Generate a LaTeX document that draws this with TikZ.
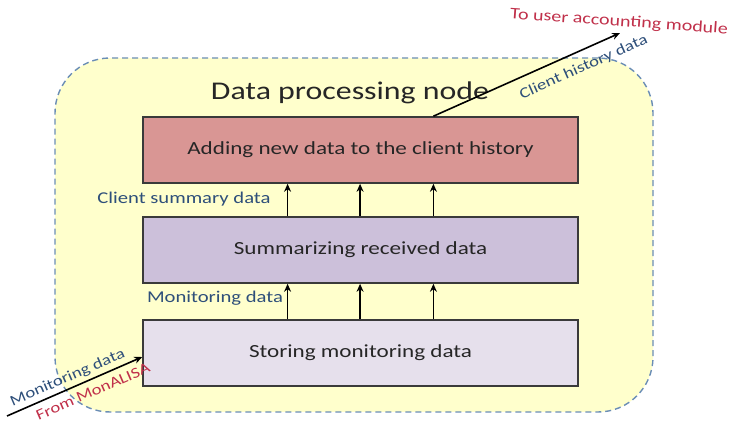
\documentclass[tikz,border=0pt]{standalone}
\usepackage{fontspec}
\setmainfont{Carlito}[FakeStretch=1.25]
\usetikzlibrary{arrows.meta,calc}
\definecolor{regionfill}{HTML}{FFFFCC}
\definecolor{regionline}{HTML}{6A8DB5}
\definecolor{addfill}{HTML}{D99694}
\definecolor{sumfill}{HTML}{CCC0DA}
\definecolor{storefill}{HTML}{E6E0EC}
\definecolor{lblue}{HTML}{2E4F7A}
\definecolor{lred}{HTML}{C0304A}
\definecolor{boxline}{HTML}{3A3A3A}
\tikzset{
  procbox/.style={draw=boxline, line width=1.6pt, minimum width=435pt, minimum height=66pt, inner sep=0pt, font=\fontsize{18.5}{20}\selectfont, text=black!85},
  flowlbl/.style={text=lblue, font=\fontsize{16.5}{18}\selectfont},
  slopelbl/.style={text=lblue, font=\fontsize{15}{17}\selectfont},
  redlbl/.style={text=lred, font=\fontsize{15}{17}\selectfont},
  flowarrow/.style={line width=1.6pt, -{Stealth[length=8pt,width=7pt]}},
}
\begin{document}
\begin{tikzpicture}[x=1pt,y=-1pt]
\useasboundingbox (0,0) rectangle (740,430);
\node[draw=regionline, fill=regionfill, dashed, dash pattern=on 6pt off 4pt, line width=1.4pt, rounded corners=55pt, minimum width=598pt, minimum height=354pt, inner sep=0pt] (region) at (354,235) {};
\node[font=\fontsize{25.5}{28}\selectfont, text=black!85] (title) at (350,93) {Data processing node};
\node[procbox, fill=addfill] (add) at (360.5,150) {Adding new data to the client history};
\node[procbox, fill=sumfill] (sum) at (360.5,250) {Summarizing received data};
\node[procbox, fill=storefill] (store) at (360.5,353) {Storing monitoring data};
\node[flowlbl] (csd) at (184,199) {Client summary data};
\node[flowlbl] (md) at (215,298) {Monitoring data};
\foreach \f in {0.333,0.499,0.667}{
  \draw[flowarrow] ($(store.north west)!\f!(store.north east)$) -- ($(sum.south west)!\f!(sum.south east)$);
  \draw[flowarrow] ($(sum.north west)!\f!(sum.north east)$) -- ($(add.south west)!\f!(add.south east)$);
}
\coordinate (src) at (7,416);
\coordinate (dst) at (620,33);
\draw[flowarrow] (src) -- node[pos=0.48, sloped, above, slopelbl] (inlbl) {Monitoring data} node[pos=0.6, sloped, below, redlbl, yshift=-3pt] (fromlbl) {From MonALISA} ([yshift=-4pt]store.west);
\draw[flowarrow] ($(add.north west)!0.667!(add.north east)$) -- node[pos=0.77, sloped, below, slopelbl, yshift=-6pt] (histlbl) {Client history data} (dst);
\node[redlbl, font=\fontsize{16}{18}\selectfont, rotate=-4] (tolbl) at (619,22) {To user accounting module};
\end{tikzpicture}
\end{document}
